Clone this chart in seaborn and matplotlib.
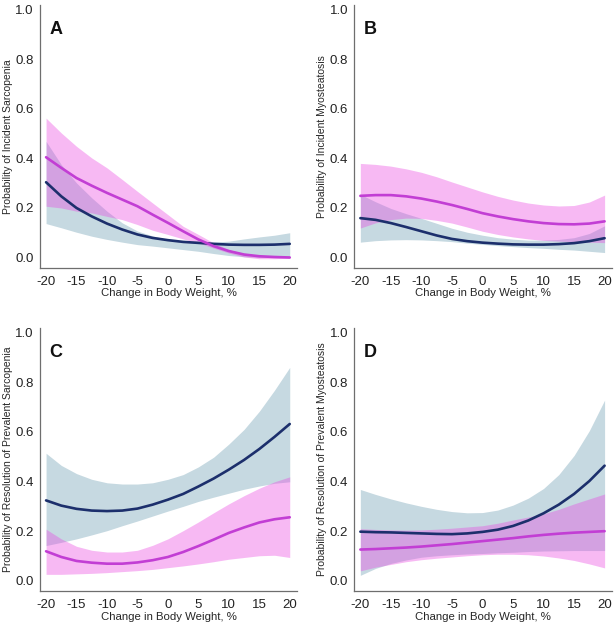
import numpy as np
import pandas as pd
import matplotlib
matplotlib.use("Agg")
import matplotlib.pyplot as plt
import seaborn as sns

# --- datos (cada 2.5 puntos de cambio de peso) ---
x_vals = [-20, -17.5, -15, -12.5, -10, -7.5, -5, -2.5, 0,
          2.5, 5, 7.5, 10, 12.5, 15, 17.5, 20]

# A: Incident Sarcopenia
a_blue = [0.304, 0.247, 0.200, 0.166, 0.137, 0.113, 0.093, 0.079, 0.070,
          0.063, 0.059, 0.055, 0.052, 0.051, 0.051, 0.052, 0.055]
a_blue_lo = [0.137, 0.120, 0.102, 0.086, 0.073, 0.062, 0.052, 0.046, 0.039,
             0.032, 0.025, 0.016, 0.008, 0.003, 0.000, 0.000, 0.003]
a_blue_hi = [0.469, 0.375, 0.301, 0.241, 0.187, 0.140, 0.107, 0.087, 0.073,
             0.066, 0.062, 0.062, 0.066, 0.075, 0.083, 0.090, 0.100]
a_pink = [0.405, 0.362, 0.321, 0.290, 0.261, 0.234, 0.207, 0.173, 0.140,
          0.106, 0.073, 0.046, 0.026, 0.012, 0.005, 0.002, 0.000]
a_pink_lo = [0.207, 0.200, 0.187, 0.180, 0.166, 0.153, 0.133, 0.110, 0.093,
             0.075, 0.059, 0.038, 0.018, 0.002, -0.005, -0.005, -0.003]
a_pink_hi = [0.563, 0.503, 0.449, 0.402, 0.362, 0.315, 0.267, 0.220, 0.173,
             0.126, 0.093, 0.059, 0.032, 0.016, 0.008, 0.005, 0.005]

# B: Incident Myosteatosis
b_blue = [0.159, 0.152, 0.139, 0.123, 0.106, 0.089, 0.075, 0.066, 0.060,
          0.056, 0.053, 0.052, 0.052, 0.054, 0.058, 0.066, 0.078]
b_blue_lo = [0.062, 0.068, 0.071, 0.072, 0.071, 0.068, 0.064, 0.058, 0.053,
             0.048, 0.044, 0.040, 0.037, 0.033, 0.030, 0.025, 0.020]
b_blue_hi = [0.255, 0.225, 0.198, 0.177, 0.158, 0.138, 0.118, 0.102, 0.090,
             0.080, 0.074, 0.070, 0.070, 0.073, 0.080, 0.097, 0.128]
b_pink = [0.249, 0.252, 0.252, 0.247, 0.238, 0.226, 0.212, 0.196, 0.179,
          0.166, 0.155, 0.146, 0.139, 0.135, 0.134, 0.137, 0.146]
b_pink_lo = [0.119, 0.140, 0.153, 0.159, 0.158, 0.150, 0.139, 0.123, 0.106,
             0.093, 0.083, 0.075, 0.069, 0.066, 0.064, 0.062, 0.060]
b_pink_hi = [0.380, 0.376, 0.369, 0.358, 0.344, 0.326, 0.305, 0.285, 0.265,
             0.247, 0.232, 0.220, 0.212, 0.208, 0.210, 0.224, 0.252]

# C: Resolution of Prevalent Sarcopenia
c_blue = [0.324, 0.303, 0.290, 0.283, 0.281, 0.283, 0.291, 0.307, 0.327,
          0.350, 0.380, 0.412, 0.448, 0.487, 0.531, 0.580, 0.632]
c_blue_lo = [0.142, 0.155, 0.169, 0.185, 0.202, 0.222, 0.241, 0.261, 0.281,
             0.300, 0.320, 0.337, 0.353, 0.369, 0.382, 0.393, 0.399]
c_blue_hi = [0.514, 0.465, 0.432, 0.409, 0.395, 0.390, 0.390, 0.395, 0.409,
             0.428, 0.459, 0.498, 0.551, 0.610, 0.683, 0.768, 0.860]
c_pink = [0.119, 0.096, 0.080, 0.073, 0.069, 0.069, 0.074, 0.083, 0.096,
          0.116, 0.140, 0.166, 0.193, 0.215, 0.235, 0.248, 0.256]
c_pink_lo = [0.026, 0.026, 0.028, 0.030, 0.033, 0.037, 0.041, 0.046, 0.053,
             0.060, 0.068, 0.077, 0.087, 0.094, 0.101, 0.103, 0.094]
c_pink_hi = [0.208, 0.169, 0.139, 0.123, 0.116, 0.116, 0.123, 0.143, 0.169,
             0.202, 0.237, 0.274, 0.310, 0.343, 0.373, 0.399, 0.419]

# D: Resolution of Prevalent Myosteatosis
d_blue = [0.198, 0.196, 0.195, 0.193, 0.191, 0.189, 0.188, 0.191, 0.197,
          0.206, 0.221, 0.243, 0.272, 0.307, 0.350, 0.402, 0.464]
d_blue_lo = [0.022, 0.050, 0.070, 0.084, 0.095, 0.101, 0.105, 0.108, 0.110,
             0.113, 0.115, 0.118, 0.120, 0.121, 0.122, 0.122, 0.122]
d_blue_hi = [0.368, 0.348, 0.330, 0.314, 0.300, 0.288, 0.279, 0.274, 0.275,
             0.285, 0.305, 0.333, 0.372, 0.428, 0.505, 0.605, 0.728]
d_pink = [0.126, 0.128, 0.131, 0.134, 0.138, 0.143, 0.148, 0.154, 0.160,
          0.166, 0.172, 0.179, 0.185, 0.190, 0.194, 0.197, 0.200]
d_pink_lo = [0.040, 0.055, 0.066, 0.077, 0.085, 0.091, 0.096, 0.101, 0.105,
             0.107, 0.107, 0.105, 0.100, 0.092, 0.082, 0.068, 0.052]
d_pink_hi = [0.210, 0.207, 0.205, 0.204, 0.205, 0.208, 0.212, 0.217, 0.222,
             0.232, 0.245, 0.257, 0.270, 0.288, 0.310, 0.330, 0.350]

panel_letters = ['A', 'B', 'C', 'D']
y_labels = ['Probability of Incident Sarcopenia',
            'Probability of Incident Myosteatosis',
            'Probability of Resolution of Prevalent Sarcopenia',
            'Probability of Resolution of Prevalent Myosteatosis']
x_label = 'Change in Body Weight, %'
x_ticks = [-20, -15, -10, -5, 0, 5, 10, 15, 20]
y_ticks = [0.0, 0.2, 0.4, 0.6, 0.8, 1.0]

paneles = [
    (a_blue, a_blue_lo, a_blue_hi, a_pink, a_pink_lo, a_pink_hi),
    (b_blue, b_blue_lo, b_blue_hi, b_pink, b_pink_lo, b_pink_hi),
    (c_blue, c_blue_lo, c_blue_hi, c_pink, c_pink_lo, c_pink_hi),
    (d_blue, d_blue_lo, d_blue_hi, d_pink, d_pink_lo, d_pink_hi),
]

# --- estilo ---
sns.set_style("white")
plt.rcParams['font.family'] = ['Liberation Sans', 'DejaVu Sans']
plt.rcParams['axes.unicode_minus'] = False

color_azul = '#1c2f6c'
color_banda_azul = '#c6d9e1'
color_rosa = '#c23ed4'
color_banda_rosa = '#ea48e2'
color_eje = '#6e6e6e'

fig = plt.figure(figsize=(6.15, 6.23), dpi=100)
posiciones = [
    [0.065, 0.570, 0.418, 0.422],
    [0.576, 0.570, 0.419, 0.422],
    [0.065, 0.051, 0.418, 0.423],
    [0.576, 0.051, 0.419, 0.423],
]

for i, (bl, bl_lo, bl_hi, pk, pk_lo, pk_hi) in enumerate(paneles):
    ax = fig.add_axes(posiciones[i])
    df = pd.DataFrame({'x': x_vals, 'azul': bl, 'rosa': pk})

    ax.fill_between(x_vals, bl_lo, bl_hi, color=color_banda_azul, lw=0, zorder=1)
    ax.fill_between(x_vals, pk_lo, pk_hi, color=color_banda_rosa, alpha=0.38, lw=0, zorder=2)
    sns.lineplot(data=df, x='x', y='azul', color=color_azul, lw=1.9, ax=ax, zorder=3)
    sns.lineplot(data=df, x='x', y='rosa', color=color_rosa, lw=1.9, ax=ax, zorder=4)

    ax.set_xlim(-21, 21.2)
    ax.set_ylim(-0.042, 1.02)
    ax.set_xticks(x_ticks)
    ax.set_xticklabels([str(t) for t in x_ticks])
    ax.set_yticks(y_ticks)
    ax.set_yticklabels([f'{t:.1f}' for t in y_ticks])
    ax.set_xlabel(x_label, fontsize=8.2, labelpad=0.5)
    ax.set_ylabel(y_labels[i], fontsize=7.5, labelpad=1.5)
    ax.tick_params(axis='both', which='major', labelsize=9.5, length=3,
                   width=0.8, color=color_eje, direction='out', pad=1.5,
                   labelcolor='#222222')
    ax.tick_params(axis='x', pad=2.5)
    for lado in ['top', 'right']:
        ax.spines[lado].set_visible(False)
    for lado in ['left', 'bottom']:
        ax.spines[lado].set_color(color_eje)
        ax.spines[lado].set_linewidth(0.9)
    ax.text(-19.5, 0.92, panel_letters[i], fontsize=13, fontweight='bold',
            va='center', ha='left', color='#111111')

plt.savefig('out.png', dpi=100)
plt.close()
